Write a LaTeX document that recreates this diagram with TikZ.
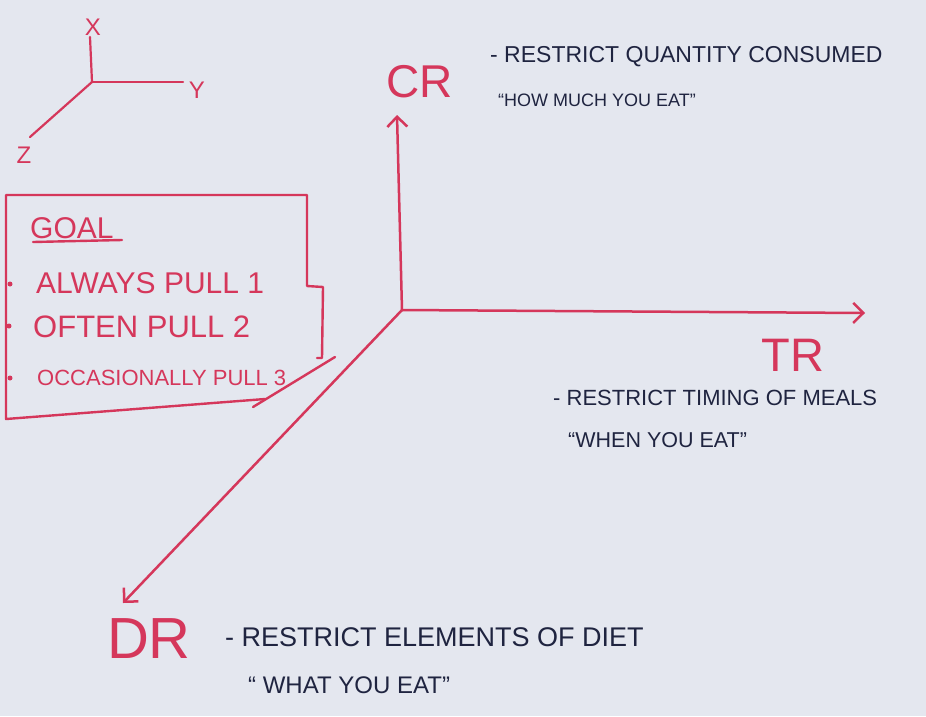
\documentclass[tikz,border=0pt]{standalone}
\usepackage{fontspec}
\setmainfont{Liberation Sans}
\usetikzlibrary{arrows.meta}
\definecolor{paper}{HTML}{E4E7EF}
\definecolor{redink}{HTML}{D5375B}
\definecolor{blueink}{HTML}{1F2440}
\tikzset{
  redline/.style={draw=redink, line width=2.5pt, line cap=round, line join=round},
  axisarrow/.style={redline, -{Straight Barb[length=10pt,width=20pt,line width=2.5pt]}},
  bigred/.style={text=redink, inner sep=0pt},
  note/.style={text=blueink, anchor=west, inner sep=0pt},
  goaltext/.style={text=redink, anchor=west, inner sep=0pt},
  smalllabel/.style={text=redink, inner sep=0pt, font=\fontsize{24}{24}\selectfont},
  bulletdot/.style={fill=redink, draw=none, circle, inner sep=0pt, minimum size=5pt},
}
\begin{document}
\begin{tikzpicture}[x=1pt,y=-1pt]
\fill[paper] (0,0) rectangle (926,716);
\useasboundingbox (0,0) rectangle (926,716);

% small reference axes
\coordinate (so) at (92,82);
\coordinate (sx) at (90,37);
\coordinate (sy) at (183,82);
\coordinate (sz) at (30,137);
\draw[redline, line width=2.2pt] (so) -- (sx);
\draw[redline, line width=2.2pt] (so) -- (sy);
\draw[redline, line width=2.2pt] (so) -- (sz);
\node[smalllabel] (lx) at (93,27) {X};
\node[smalllabel] (ly) at (197,90) {Y};
\node[smalllabel] (lz) at (24,155) {Z};

% goal box
\draw[redline, line width=2.4pt] (265,399) -- (6,419) -- (6,195) -- (307,195) -- (307,286) -- (323,287) -- (322,358) -- (317,358);
\draw[redline, line width=2.4pt] (253,407) -- (335,357);
\node[goaltext, font=\fontsize{30}{30}\selectfont] (goal) at (30,228) {GOAL};
\draw[redline, line width=2.4pt] (33,242) -- (122,240);
\node[bulletdot] (b1) at (10,284) {};
\node[bulletdot] (b2) at (9,326) {};
\node[bulletdot] (b3) at (10,378) {};
\node[goaltext, font=\fontsize{30}{30}\selectfont] (g1) at (36,283) {ALWAYS PULL 1};
\node[goaltext, font=\fontsize{31}{31}\selectfont] (g2) at (33,327) {OFTEN PULL 2};
\node[goaltext, font=\fontsize{22}{22}\selectfont] (g3) at (37,378) {OCCASIONALLY PULL 3};

% main axes
\coordinate (o) at (402,310);
\coordinate (crtip) at (397,115);
\coordinate (trtip) at (865,313);
\coordinate (drtip) at (123,603);
\draw[axisarrow] (o) -- (crtip);
\draw[axisarrow] (o) -- (trtip);
\draw[axisarrow] (o) -- (drtip);

\node[bigred, font=\fontsize{46}{46}\selectfont] (cr) at (420,82) {CR};
\node[bigred, font=\fontsize{47}{47}\selectfont] (tr) at (793,355) {TR};
\node[bigred, font=\fontsize{58}{58}\selectfont] (dr) at (149,639) {DR};

% notes
\node[note, font=\fontsize{23}{23}\selectfont] (cr1) at (490,57) {- RESTRICT QUANTITY CONSUMED};
\node[note, font=\fontsize{18}{18}\selectfont] (cr2) at (498,100) {“HOW MUCH YOU EAT”};
\node[note, font=\fontsize{22}{22}\selectfont] (tr1) at (553,398) {- RESTRICT TIMING OF MEALS};
\node[note, font=\fontsize{21.5}{21.5}\selectfont] (tr2) at (568,440) {“WHEN YOU EAT”};
\node[note, font=\fontsize{27}{27}\selectfont] (dr1) at (225,637) {- RESTRICT ELEMENTS OF DIET};
\node[note, font=\fontsize{24}{24}\selectfont] (dr2) at (248,685) {“ WHAT YOU EAT”};
\end{tikzpicture}
\end{document}
